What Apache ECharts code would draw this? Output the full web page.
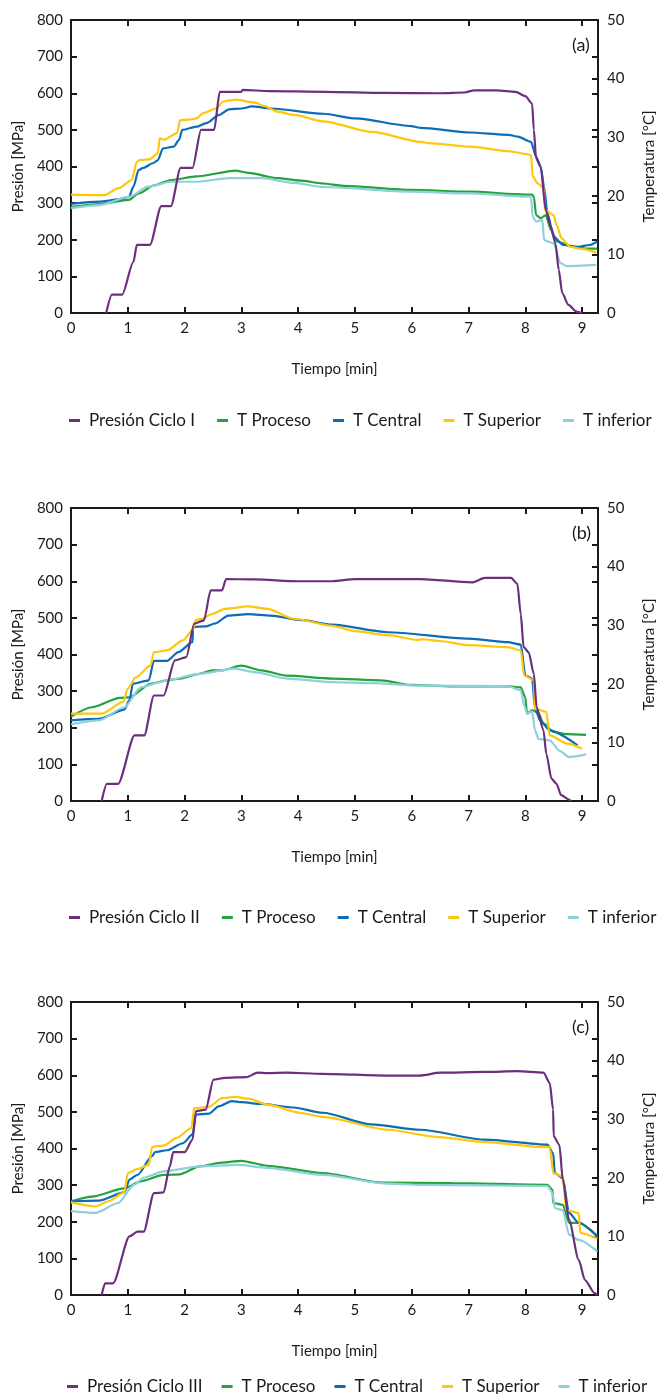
<!DOCTYPE html>
<html><head><meta charset="utf-8">
<script src="https://cdn.jsdelivr.net/npm/echarts/dist/echarts.min.js"></script>
<style>html,body{margin:0;padding:0;background:#fff}#c{width:665px;height:1394px}</style>
</head><body><div id="c"></div>
<script>
// ---------- data (time in min; pressure in MPa; temperatures in °C) ----------
const xTicks = [0,1,2,3,4,5,6,7,8,9];
const panelLabels = ['(a)','(b)','(c)'];
const pressureNames = ['Presión Ciclo I','Presión Ciclo II','Presión Ciclo III'];
const tempNames = ['T Proceso','T Central','T Superior','T inferior'];

// (a)
const presionI = [[0.62,0],[0.72,50],[0.9,50],[1.1,140],[1.16,186],[1.39,186],[1.59,292],[1.76,292],[1.93,396],[2.14,396],[2.29,500],[2.52,500],[2.62,604],[3.0,604],[3.02,609],[3.5,606],[4.47,604],[5.5,601],[6.5,600],[6.93,602],[7.1,608],[7.5,608],[7.83,604],[8.0,592],[8.12,572],[8.15,500],[8.19,422],[8.27,400],[8.36,281],[8.45,236],[8.53,190],[8.59,117],[8.65,54],[8.76,22],[8.9,4],[9.0,0]];
const procesoA = [[0,18.1],[0.5,18.6],[1.02,19.3],[1.19,20.4],[1.47,21.8],[1.76,22.7],[2.21,23.3],[2.9,24.3],[3.13,23.9],[3.64,23.0],[4.04,22.6],[4.44,22.1],[4.79,21.7],[5.99,21.0],[7.02,20.7],[7.99,20.2],[8.12,20.2],[8.15,19.85],[8.19,16.7],[8.27,16.2],[8.36,16.7],[8.45,14.2],[8.56,12.2],[8.84,11.3],[9.07,11.0],[9.27,11.0]];
const centralA = [[0,18.6],[0.5,19.0],[0.84,19.4],[1.02,19.8],[1.1,21.55],[1.19,24.4],[1.27,24.75],[1.45,25.6],[1.53,26.1],[1.62,28.1],[1.81,28.4],[1.9,29.5],[1.96,31.25],[2.21,31.8],[2.38,32.4],[2.61,33.8],[2.78,34.75],[3.01,34.9],[3.18,35.25],[3.53,34.9],[4.44,34.0],[5.01,33.2],[5.99,31.9],[6.16,31.6],[7.02,30.8],[7.71,30.4],[7.87,30.1],[8.1,29.2],[8.19,26.7],[8.27,25.0],[8.33,21.55],[8.39,17.0],[8.5,13.0],[8.67,11.6],[8.93,11.3],[9.13,11.6],[9.27,12.2]];
const superiorA = [[0,20.2],[0.58,20.1],[0.84,21.3],[1.07,22.7],[1.16,25.8],[1.21,26.1],[1.38,26.2],[1.53,27.25],[1.56,29.8],[1.64,29.6],[1.87,30.7],[1.92,32.9],[2.07,33.0],[2.21,33.2],[2.33,34.1],[2.56,34.9],[2.67,36.05],[2.78,36.3],[2.9,36.4],[3.24,35.9],[3.41,35.3],[3.64,34.35],[3.93,33.8],[4.44,32.7],[5.3,30.9],[6.16,29.2],[6.3,29.0],[7.02,28.4],[7.71,27.6],[8.1,27.0],[8.13,23.3],[8.22,22.1],[8.33,21.3],[8.34,17.6],[8.5,16.7],[8.55,15.0],[8.64,12.75],[8.79,11.3],[9.02,10.9],[9.25,10.3]];
const inferiorA = [[0,17.9],[0.5,18.4],[1.02,19.8],[1.36,21.55],[1.76,22.4],[2.21,22.4],[2.78,23.0],[3.36,23.0],[3.93,22.2],[4.44,21.5],[5.99,20.7],[7.02,20.4],[8.1,19.85],[8.13,16.4],[8.19,15.6],[8.3,15.9],[8.33,12.45],[8.5,11.9],[8.62,8.5],[8.73,8.0],[9.25,8.2]];

// (b)
const presionII = [[0.54,0],[0.63,47],[0.83,47],[1.12,179],[1.29,179],[1.46,288],[1.63,288],[1.83,384],[2.03,393],[2.17,484],[2.34,493],[2.46,575],[2.66,575],[2.73,606],[3.23,605],[4.0,600],[4.6,600],[5.0,606],[6.15,606],[7.06,597],[7.29,609],[7.75,609],[7.86,593],[7.92,510],[7.97,420],[8.06,406],[8.15,347],[8.2,256],[8.32,193],[8.37,129],[8.46,61],[8.55,47],[8.63,16],[8.77,4],[8.8,0]];
const procesoB = [[0,14.4],[0.37,16.0],[0.86,17.6],[1.03,17.7],[1.4,20.0],[1.69,20.6],[1.92,20.9],[2.26,21.7],[2.49,22.3],[2.66,22.3],[3.0,23.1],[3.35,22.3],[3.8,21.4],[4.6,20.9],[5.46,20.6],[5.97,19.8],[6.71,19.55],[7.69,19.6],[7.92,19.4],[8.0,17.7],[8.03,14.9],[8.12,15.5],[8.23,15.0],[8.32,13.2],[8.5,11.8],[8.73,11.4],[9.07,11.3]];
const centralB = [[0,13.75],[0.49,14.0],[0.94,15.6],[1.03,17.2],[1.09,20.0],[1.37,20.6],[1.46,23.9],[1.69,23.9],[1.89,25.4],[2.14,27.1],[2.15,29.7],[2.37,29.8],[2.54,30.3],[2.77,31.65],[3.12,31.9],[3.52,31.65],[4.03,30.9],[4.6,30.1],[5.58,28.8],[7.0,27.7],[7.69,27.1],[7.92,26.7],[8.0,21.4],[8.12,20.9],[8.17,15.9],[8.26,13.75],[8.43,12.05],[8.92,9.5]];
const superiorB = [[0,14.9],[0.54,14.9],[0.92,16.9],[1.0,19.2],[1.14,21.1],[1.4,23.1],[1.46,25.4],[1.69,25.7],[1.97,27.4],[2.14,29.1],[2.2,30.9],[2.31,31.1],[2.48,31.9],[2.71,32.8],[3.12,33.2],[3.46,32.8],[3.92,31.1],[4.6,29.9],[5.0,29.0],[5.58,28.3],[6.1,27.5],[6.2,27.6],[6.5,27.3],[7.0,26.6],[7.69,26.25],[7.92,25.7],[7.98,21.4],[8.15,20.6],[8.17,15.75],[8.37,15.2],[8.43,11.2],[8.74,9.8],[9.0,8.9]];
const inferiorB = [[0,13.1],[0.49,13.75],[0.94,16.0],[1.23,19.4],[1.69,20.6],[2.26,21.7],[2.88,22.6],[3.23,22.0],[3.8,20.9],[4.6,20.3],[5.29,20.1],[6.15,19.7],[7.69,19.6],[7.92,18.9],[7.98,16.3],[8.03,14.9],[8.12,15.3],[8.17,12.05],[8.23,10.6],[8.43,10.35],[8.6,8.6],[8.77,7.5],[9.07,7.95]];

// (c)
const presionIII = [[0.54,0],[0.6,32],[0.74,32],[1.03,160],[1.17,173],[1.28,173],[1.46,278],[1.63,280],[1.74,351],[1.8,390],[2.0,390],[2.14,424],[2.2,502],[2.37,506],[2.51,588],[2.71,593],[3.09,595],[3.29,607],[3.46,606],[3.8,607],[4.43,604],[5.58,599],[6.15,599],[6.5,607],[7.29,609],[7.86,611],[8.32,607],[8.43,579],[8.49,506],[8.5,433],[8.6,410],[8.66,315],[8.77,205],[8.94,96],[9.05,41],[9.22,5],[9.27,0]];
const procesoC = [[0,16.0],[0.37,16.8],[0.94,18.2],[1.23,19.4],[1.63,20.5],[1.92,20.6],[2.26,21.95],[2.66,22.6],[3.0,22.9],[3.46,22.05],[4.43,20.8],[5.46,19.2],[6.71,19.1],[8.39,18.8],[8.48,17.95],[8.49,15.7],[8.66,15.4],[8.77,12.3],[8.94,12.3],[9.27,10.0]];
const centralC = [[0,16.0],[0.49,16.1],[0.94,17.5],[1.03,19.7],[1.17,20.5],[1.43,23.7],[1.48,24.4],[1.69,24.7],[1.97,25.9],[2.14,27.4],[2.2,30.8],[2.43,30.95],[2.6,32.2],[2.83,33.1],[3.0,32.9],[3.35,32.6],[3.92,32.0],[4.43,31.1],[5.29,29.1],[6.15,28.2],[7.29,26.5],[8.39,25.65],[8.49,24.2],[8.52,20.8],[8.66,19.95],[8.77,14.0],[8.94,12.3],[9.27,10.0]];
const superiorC = [[0,15.8],[0.43,15.1],[0.66,16.0],[0.94,17.5],[1.0,20.8],[1.17,21.5],[1.37,22.2],[1.43,25.3],[1.63,25.5],[1.86,26.8],[2.12,28.5],[2.17,31.9],[2.43,32.1],[2.66,33.6],[2.9,33.8],[3.12,33.5],[3.46,32.5],[4.03,31.1],[4.43,30.4],[5.58,28.2],[6.43,27.0],[7.29,26.1],[8.32,25.25],[8.43,25.25],[8.49,20.8],[8.66,20.25],[8.72,14.5],[8.94,14.0],[8.97,10.55],[9.27,9.6]];
const inferiorC = [[0,14.3],[0.43,14.0],[0.83,15.7],[1.11,18.8],[1.28,20.0],[1.63,21.1],[2.26,21.95],[2.94,22.2],[3.46,21.7],[4.43,20.5],[5.58,19.0],[6.15,18.8],[8.39,18.6],[8.48,17.4],[8.52,14.8],[8.66,14.5],[8.77,10.3],[8.94,9.4],[9.27,7.4]];

// ---------- presentation ----------
const panels = [
  {pres: presionI,   temps: [procesoA, centralA, superiorA, inferiorA]},
  {pres: presionII,  temps: [procesoB, centralB, superiorB, inferiorB]},
  {pres: presionIII, temps: [procesoC, centralC, superiorC, inferiorC]}
];
const colors = {pres:'#6b2f7e', temps:['#22a33c','#0c6db6','#ffc70a','#90cfdc']};
const tops = [20, 508, 1002];
const legendTops = [412, 909, 1378];
const legendLefts = [69, 69, 67];
const legendGaps = [22, 22, 19];
const H = 293;
const FONT = 'Lato';
const AX = '#1a1a1a';
const TXT = '#1a1a1a';

const grid=[], xAxis=[], yAxis=[], series=[], legend=[], graphic=[];
panels.forEach((p,i)=>{
  grid.push({left:71, right:53, top:tops[i], height:H});
  const xBase = {gridIndex:i, type:'value', min:0, max:9.28, interval:1,
    axisLine:{show:true, onZero:false, lineStyle:{color:AX, width:2}},
    axisTick:{show:true, inside:true, length:6, lineStyle:{color:AX, width:2}},
    splitLine:{show:false}};
  xAxis.push(Object.assign({}, xBase, {position:'bottom',
    axisLabel:{fontFamily:FONT, fontSize:15, color:TXT, margin:8, showMaxLabel:false,
      formatter:v=> xTicks.includes(v) ? String(v) : ''},
    name:'Tiempo [min]', nameLocation:'middle', nameGap:49,
    nameTextStyle:{fontFamily:FONT, fontSize:15, color:TXT}}));
  xAxis.push(Object.assign({}, xBase, {position:'top', axisLabel:{show:false}}));
  const yBase = {gridIndex:i, type:'value', splitLine:{show:false},
    axisLine:{show:true, onZero:false, lineStyle:{color:AX, width:2}},
    axisTick:{show:true, inside:true, length:6, lineStyle:{color:AX, width:2}}};
  yAxis.push(Object.assign({}, yBase, {position:'left', min:0, max:800, interval:100,
    axisLabel:{fontFamily:FONT, fontSize:15, color:TXT, margin:8},
    name:'Presión [MPa]', nameLocation:'middle', nameGap:45,
    nameTextStyle:{fontFamily:FONT, fontSize:15, color:TXT}}));
  yAxis.push(Object.assign({}, yBase, {position:'right', min:0, max:50, interval:10,
    axisLabel:{fontFamily:FONT, fontSize:15, color:TXT, margin:9},
    name:'Temperatura [°C]', nameLocation:'middle', nameGap:44,
    nameTextStyle:{fontFamily:FONT, fontSize:15, color:TXT}}));
  yAxis.push(Object.assign({}, yBase, {position:'right', min:0, max:800, interval:100,
    axisLabel:{show:false}}));

  const lineOpts = {type:'line', showSymbol:false, symbol:'none', smooth:0.25, smoothMonotone:'x'};
  series.push(Object.assign({}, lineOpts, {name:pressureNames[i], xAxisIndex:2*i, yAxisIndex:3*i,
    data:p.pres, z:3, lineStyle:{width:2.2, color:colors.pres}, itemStyle:{color:colors.pres}}));
  p.temps.forEach((d,k)=>{
    series.push(Object.assign({}, lineOpts, {name:tempNames[k], xAxisIndex:2*i, yAxisIndex:3*i+1,
      data:d, z:2, lineStyle:{width:2.2, color:colors.temps[k]}, itemStyle:{color:colors.temps[k]}}));
  });

  legend.push({data:[pressureNames[i]].concat(tempNames), top:legendTops[i], left:legendLefts[i],
    padding:0, width:660, icon:'rect', itemWidth:11, itemHeight:3, itemGap:legendGaps[i],
    textStyle:{fontFamily:FONT, fontSize:17, color:TXT, padding:[0,0,0,4]},
    selectedMode:false});

  graphic.push({type:'text', left:572, top:tops[i]+16,
    style:{text:panelLabels[i], font:'18px '+FONT, fill:TXT}});
});

const chart = echarts.init(document.getElementById('c'), null, {renderer:'canvas'});
chart.setOption({animation:false, backgroundColor:'#fff', grid, xAxis, yAxis, series, legend, graphic});
</script></body></html>
